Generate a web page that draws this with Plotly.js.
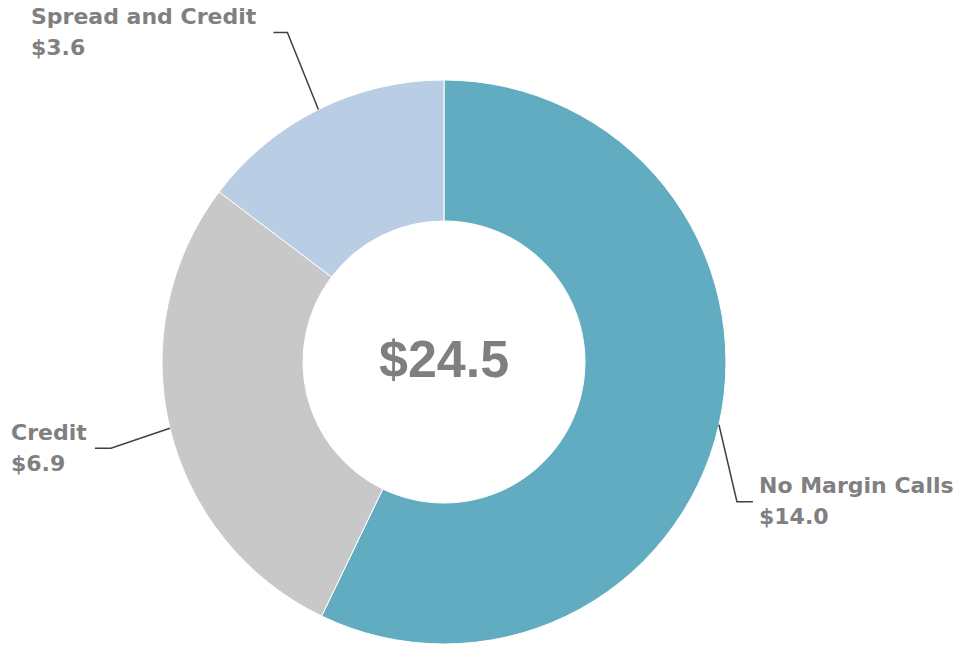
<!DOCTYPE html>
<html>
<head>
<meta charset="utf-8">
<script src="https://cdn.plot.ly/plotly-3.0.1.min.js"></script>
<style>html,body{margin:0;padding:0;background:#fff;}#chart{width:963px;height:646px;}</style>
</head>
<body>
<div id="chart"></div>
<script>
// Data
const categories = ["No Margin Calls", "Credit", "Spread and Credit"];
const values = [14.0, 6.9, 3.6];
const valueLabels = ["$14.0", "$6.9", "$3.6"];
const totalLabel = "$24.5";
const colors = ["#61ACC1", "#C8C8C8", "#B9CDE5"];

// Layout (pixels)
const W = 963, H = 646;
const cx = 444, cy = 362, R = 282;
// elbow offsets from slice anchor, horizontal run, label left edge
const elbowDX = [18, -59, -31];
const elbowDY = [77, 20, -77];
const runDX = [16, -16, -14];
const labelLeft = [757, 9, 29];
const nameDY = -16, valueDY = 15;

const px = x => x / W;
const py = y => 1 - y / H;
const labelFont = {family: "DejaVu Sans", size: 22, color: "#808080"};

const total = values.reduce((a, b) => a + b, 0);
let cum = 0;
const shapes = [], annotations = [];
values.forEach((v, i) => {
  const mid = (cum + v / 2) / total * 2 * Math.PI;
  cum += v;
  const ax = cx + R * Math.sin(mid), ay = cy - R * Math.cos(mid);
  const ex = ax + elbowDX[i], ey = ay + elbowDY[i];
  const hx = ex + runDX[i];
  shapes.push({type: "path", xref: "paper", yref: "paper",
    path: `M ${px(ax)} ${py(ay)} L ${px(ex)} ${py(ey)} L ${px(hx)} ${py(ey)}`,
    line: {color: "#404040", width: 1.5}});
  annotations.push({xref: "paper", yref: "paper",
    x: px(labelLeft[i]), y: py(ey + nameDY),
    xanchor: "left", yanchor: "middle", align: "left", showarrow: false,
    text: "<b>" + categories[i] + "</b>", font: labelFont});
  annotations.push({xref: "paper", yref: "paper",
    x: px(labelLeft[i]), y: py(ey + valueDY),
    xanchor: "left", yanchor: "middle", align: "left", showarrow: false,
    text: "<b>" + valueLabels[i] + "</b>", font: labelFont});
});
annotations.push({xref: "paper", yref: "paper", x: px(cx), y: py(cy - 3),
  xanchor: "center", yanchor: "middle", showarrow: false,
  text: "<b>" + totalLabel + "</b>",
  font: {family: "Liberation Sans", size: 52, color: "#7F7F7F"}});

const trace = {
  type: "pie", labels: categories, values: values, hole: 0.5,
  sort: false, direction: "clockwise", rotation: 0,
  marker: {colors: colors, line: {color: "#FFFFFF", width: 1}},
  textinfo: "none", hoverinfo: "none",
  domain: {x: [px(cx - R), px(cx + R)], y: [py(cy + R), py(cy - R)]}
};

Plotly.newPlot("chart", [trace], {
  width: W, height: H, margin: {l: 0, r: 0, t: 0, b: 0},
  showlegend: false, paper_bgcolor: "#FFFFFF",
  shapes: shapes, annotations: annotations
}, {displayModeBar: false, staticPlot: true});
</script>
</body>
</html>
